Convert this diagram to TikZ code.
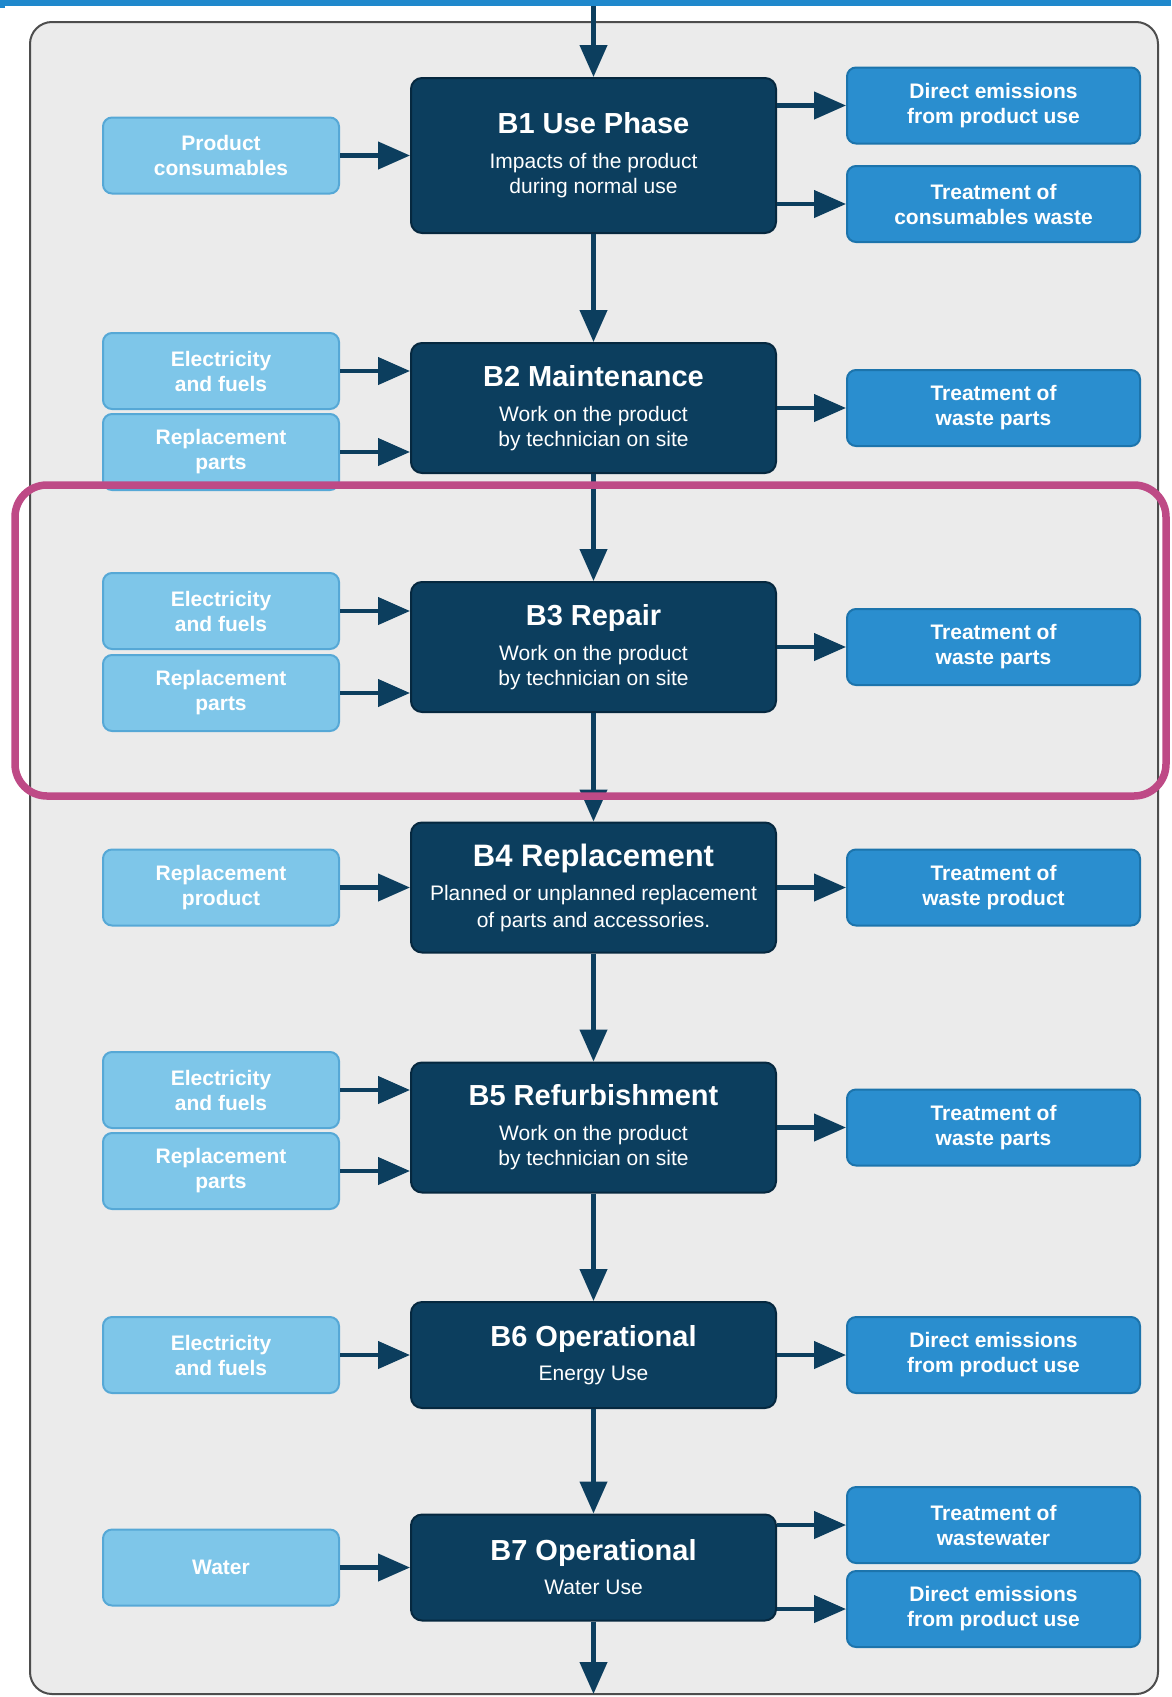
\documentclass[tikz,border=0pt]{standalone}
\usepackage{fontspec}
\setmainfont{Liberation Sans}
\usetikzlibrary{arrows.meta, positioning}
\definecolor{navy}{HTML}{0C3E5E}
\definecolor{navyedge}{HTML}{06283F}
\definecolor{inblue}{HTML}{7EC6E9}
\definecolor{inedge}{HTML}{56A8D6}
\definecolor{outblue}{HTML}{2A8ECF}
\definecolor{outedge}{HTML}{1C74AC}
\definecolor{panelgray}{HTML}{EBEBEB}
\definecolor{paneledge}{HTML}{4D4D4D}
\definecolor{topbar}{HTML}{1F88CC}
\definecolor{hilite}{HTML}{BE4A86}
\newcommand{\phasetitle}[1]{{\fontsize{29}{35}\selectfont\bfseries #1}}
\tikzset{
  phase/.style={rectangle, draw=navyedge, line width=2pt, fill=navy,
                rounded corners=11pt, minimum width=365pt, minimum height=130pt,
                align=center, text=white, font=\fontsize{21}{25}\selectfont},
  inbox/.style={rectangle, draw=inedge, line width=2pt, fill=inblue,
                rounded corners=9pt, minimum width=236pt, minimum height=76pt,
                align=center, text=white, font=\fontsize{21}{25}\selectfont\bfseries},
  outbox/.style={inbox, draw=outedge, fill=outblue, minimum width=293pt},
  arr/.style={-{Triangle[length=32pt, width=27pt]}, line width=4.3pt, draw=navy},
}

\begin{document}
\begin{tikzpicture}[x=1pt, y=-1pt]
  \useasboundingbox (0,0) rectangle (1171,1697);
  \fill[white] (0,0) rectangle (1171,1697);
  % panel
  \draw[paneledge, line width=2pt, fill=panelgray, rounded corners=22pt] (30,22) rectangle (1158,1694);
  % B1
  \node[phase, minimum height=155pt] (b1) at (593.5,155.5) {\phasetitle{B1 Use Phase}\\[10pt]Impacts of the product\\during normal use};
  \node[inbox, left=70pt of b1] (cons1) {Product\\consumables};
  \node[outbox, right=69pt of b1, yshift=50pt] (emis1) {Direct emissions\\from product use};
  \node[outbox, right=69pt of b1, yshift=-48.5pt] (waste1) {Treatment of\\consumables waste};
  % B2
  \node[phase] (b2) at (593.5,408) {\phasetitle{B2 Maintenance}\\[10pt]Work on the product\\by technician on site};
  \node[inbox, left=70pt of b2, yshift=37pt] (elec2) {Electricity\\and fuels};
  \node[inbox, left=70pt of b2, yshift=-44pt] (repl2) {Replacement\\parts};
  \node[outbox, right=69pt of b2] (parts2) {Treatment of\\waste parts};
  % B3
  \node[phase] (b3) at (593.5,647) {\phasetitle{B3 Repair}\\[10pt]Work on the product\\by technician on site};
  \node[inbox, left=70pt of b3, yshift=36pt] (elec3) {Electricity\\and fuels};
  \node[inbox, left=70pt of b3, yshift=-46pt] (repl3) {Replacement\\parts};
  \node[outbox, right=69pt of b3] (parts3) {Treatment of\\waste parts};
  % B4
  \node[phase] (b4) at (593.5,887.5) {{\fontsize{31}{35}\selectfont\bfseries B4 Replacement}\\[9pt]Planned or unplanned replacement\\[2pt]of parts and accessories.};
  \node[inbox, left=70pt of b4] (prod4) {Replacement\\product};
  \node[outbox, right=69pt of b4] (wprod4) {Treatment of\\waste product};
  % B5
  \node[phase] (b5) at (593.5,1127.5) {\phasetitle{B5 Refurbishment}\\[10pt]Work on the product\\by technician on site};
  \node[inbox, left=70pt of b5, yshift=37.5pt] (elec5) {Electricity\\and fuels};
  \node[inbox, left=70pt of b5, yshift=-43.5pt] (repl5) {Replacement\\parts};
  \node[outbox, right=69pt of b5] (parts5) {Treatment of\\waste parts};
  % B6
  \node[phase, minimum height=106pt] (b6) at (593.5,1355) {\phasetitle{B6 Operational}\\[9pt]Energy Use};
  \node[inbox, left=70pt of b6] (elec6) {Electricity\\and fuels};
  \node[outbox, right=69pt of b6] (emis6) {Direct emissions\\from product use};
  % B7
  \node[phase, minimum height=106pt] (b7) at (593.5,1567.5) {\phasetitle{B7 Operational}\\[9pt]Water Use};
  \node[inbox, left=70pt of b7] (water7) {Water};
  \node[outbox, right=69pt of b7, yshift=42.5pt] (ww7) {Treatment of\\wastewater};
  \node[outbox, right=69pt of b7, yshift=-41.5pt] (emis7) {Direct emissions\\from product use};
  % main flow
  \coordinate (entry) at (593.5,0);
  \coordinate (exit) at (593.5,1694);
  \draw[arr] (entry) -- (b1);
  \draw[arr] (b1) -- (b2);
  \draw[arr] (b2) -- (b3);
  \draw[arr] (b3) -- (b4);
  \draw[arr] (b4) -- (b5);
  \draw[arr] (b5) -- (b6);
  \draw[arr] (b6) -- (b7);
  \draw[arr] (b7) -- (exit);
  % inputs
  \draw[arr] (cons1.east) -- (cons1 -| b1.west);
  \draw[arr] (elec2.east) -- (elec2 -| b2.west);
  \draw[arr] (repl2.east) -- (repl2 -| b2.west);
  \draw[arr] (elec3.east) -- (elec3 -| b3.west);
  \draw[arr] (repl3.east) -- (repl3 -| b3.west);
  \draw[arr] (prod4.east) -- (prod4 -| b4.west);
  \draw[arr] (elec5.east) -- (elec5 -| b5.west);
  \draw[arr] (repl5.east) -- (repl5 -| b5.west);
  \draw[arr] (elec6.east) -- (elec6 -| b6.west);
  \draw[arr] (water7.east) -- (water7 -| b7.west);
  % outputs
  \draw[arr] (b1.east |- emis1) -- (emis1.west);
  \draw[arr] (b1.east |- waste1) -- (waste1.west);
  \draw[arr] (b2.east |- parts2) -- (parts2.west);
  \draw[arr] (b3.east |- parts3) -- (parts3.west);
  \draw[arr] (b4.east |- wprod4) -- (wprod4.west);
  \draw[arr] (b5.east |- parts5) -- (parts5.west);
  \draw[arr] (b6.east |- emis6) -- (emis6.west);
  \draw[arr] (b7.east |- ww7) -- (ww7.west);
  \draw[arr] (b7.east |- emis7) -- (emis7.west);
  % top bar and highlight
  \fill[topbar] (0,0) rectangle (1171,5.5);
  \fill[topbar] (0,0) rectangle (5,8);
  \draw[hilite, line width=7.5pt, rounded corners=32pt] (15,485) rectangle (1166,796);
\end{tikzpicture}
\end{document}
